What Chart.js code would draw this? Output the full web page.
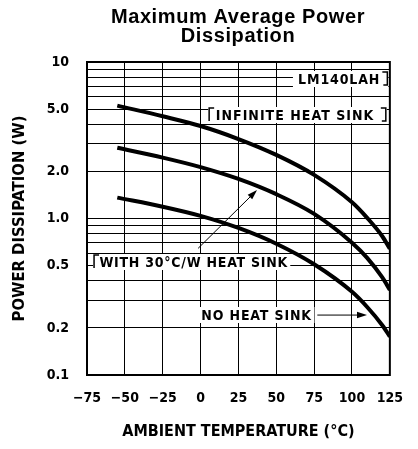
<!DOCTYPE html>
<html>
<head>
<meta charset="utf-8">
<script src="https://cdn.jsdelivr.net/npm/chart.js@4.4.1/dist/chart.umd.min.js"></script>
<style>
  html, body { margin: 0; padding: 0; background: #fff; }
  #wrap { width: 418px; height: 449px; }
</style>
</head>
<body>
<div id="wrap"><canvas id="powerChart"></canvas></div>
<script>
// values
var temperatures = [-55, -25, 0, 25, 50, 75, 100, 110, 120, 125];
var infiniteSink = [5.26, 4.5, 3.9, 3.22, 2.55, 1.9, 1.27, 1.01, 0.77, 0.64];
var withSink30 = [2.83, 2.45, 2.13, 1.79, 1.43, 1.07, 0.70, 0.56, 0.42, 0.35];
var noSink = [1.36, 1.19, 1.04, 0.87, 0.69, 0.51, 0.34, 0.272, 0.208, 0.176];

var xTickValues = [-75, -50, -25, 0, 25, 50, 75, 100, 125];
var xTickLabels = ["\u221275", "\u221250", "\u221225", "0", "25", "50", "75", "100", "125"];
var yGridValues = [0.1, 0.2, 0.3, 0.4, 0.5, 0.6, 0.7, 0.8, 0.9, 1, 2, 3, 4, 5, 6, 7, 8, 9, 10];
var yLabelValues = [0.1, 0.2, 0.5, 1, 2, 5, 10];
var yLabelTexts = ["0.1", "0.2", "0.5", "1.0", "2.0", "5.0", "10"];

var condensed = "'DejaVu Sans Condensed', 'Liberation Sans Narrow', 'DejaVu Sans', sans-serif";

function toPoints(values) {
  var pts = [];
  for (var i = 0; i < temperatures.length; i++) {
    pts.push({ x: temperatures[i], y: values[i] });
  }
  return pts;
}

function curve(label, values) {
  return {
    label: label,
    data: toPoints(values),
    borderColor: '#000',
    borderWidth: 4,
    pointRadius: 0,
    fill: false,
    cubicInterpolationMode: 'monotone'
  };
}

// label boxes, placed in axis units (temperature, watts)
var notes = [
  { text: 'LM140LAH', from: 64.4, to: 118.1, at: 7.79, box: [61, 124], right: true },
  { text: 'INFINITE HEAT SINK', from: 10.0, to: 114.1, at: 4.58, box: [5, 123], left: true, right: true },
  { text: 'WITH 30\u00B0C/W HEAT SINK', from: -66.8, to: 57.3, at: 0.527, box: [-71, 59.4], left: true, lead: [59.4, 72, 0.504] },
  { text: 'NO HEAT SINK', from: 0.5, to: 73.0, at: 0.2415, box: [-2.4, 75.2] }
];
var arrows = [
  { x1: -1.6, y1: 0.645, x2: 37.3, y2: 1.52 },
  { x1: 77.1, y1: 0.2415, x2: 109.9, y2: 0.2415 }
];

function drawArrow(ctx, x1, y1, x2, y2) {
  var ang = Math.atan2(y2 - y1, x2 - x1);
  var len = 10, half = 3.2;
  ctx.beginPath();
  ctx.moveTo(x1, y1);
  ctx.lineTo(x2 - Math.cos(ang) * len * 0.8, y2 - Math.sin(ang) * len * 0.8);
  ctx.stroke();
  ctx.beginPath();
  ctx.moveTo(x2, y2);
  ctx.lineTo(x2 - Math.cos(ang) * len - Math.sin(ang) * half, y2 - Math.sin(ang) * len + Math.cos(ang) * half);
  ctx.lineTo(x2 - Math.cos(ang) * len + Math.sin(ang) * half, y2 - Math.sin(ang) * len - Math.cos(ang) * half);
  ctx.closePath();
  ctx.fill();
}

var notesPlugin = {
  id: 'notes',
  beforeDatasetsDraw: function (chart) {
    var ctx = chart.ctx;
    var xs = chart.scales.x, ys = chart.scales.y;
    ctx.save();
    ctx.fillStyle = '#000';
    ctx.strokeStyle = '#000';
    ctx.font = 'bold 14px ' + condensed;
    ctx.textBaseline = 'middle';
    ctx.textAlign = 'left';
    notes.forEach(function (n) {
      var y = Math.round(ys.getPixelForValue(n.at));
      var bx1 = xs.getPixelForValue(n.box[0]);
      var bx2 = xs.getPixelForValue(n.box[1]);
      ctx.fillStyle = '#fff';
      ctx.fillRect(bx1, y - 8, bx2 - bx1, 16);
      ctx.fillStyle = '#000';
      var tx1 = xs.getPixelForValue(n.from);
      var tx2 = xs.getPixelForValue(n.to);
      ctx.letterSpacing = '0px';
      var w0 = ctx.measureText(n.text).width;
      var gap = (tx2 - tx1 - w0) / (n.text.length - 1);
      ctx.letterSpacing = gap + 'px';
      ctx.fillText(n.text, tx1, y + 1);
      ctx.letterSpacing = '0px';
      ctx.lineWidth = 1.5;
      if (n.right) {
        ctx.beginPath();
        ctx.moveTo(bx2 - 6, y - 7);
        ctx.lineTo(bx2 - 1, y - 7);
        ctx.lineTo(bx2 - 1, y + 6);
        ctx.lineTo(bx2 - 5, y + 6);
        ctx.stroke();
      }
      if (n.left) {
        ctx.beginPath();
        ctx.moveTo(bx1 + 6, y - 7);
        ctx.lineTo(bx1 + 1, y - 7);
        ctx.lineTo(bx1 + 1, y + 6);
        ctx.stroke();
      }
      if (n.lead) {
        var ly = Math.round(ys.getPixelForValue(n.lead[2])) + 0.5;
        ctx.lineWidth = 1;
        ctx.beginPath();
        ctx.moveTo(xs.getPixelForValue(n.lead[0]), ly);
        ctx.lineTo(xs.getPixelForValue(n.lead[1]), ly);
        ctx.stroke();
      }
    });
    ctx.lineWidth = 1;
    arrows.forEach(function (a) {
      drawArrow(ctx, xs.getPixelForValue(a.x1), ys.getPixelForValue(a.y1),
        xs.getPixelForValue(a.x2), ys.getPixelForValue(a.y2));
    });
    ctx.restore();
  },
  afterDatasetsDraw: function (chart) {
    var ctx = chart.ctx, a = chart.chartArea;
    ctx.save();
    ctx.strokeStyle = '#000';
    ctx.lineWidth = 2;
    ctx.strokeRect(a.left, a.top, a.right - a.left, a.bottom - a.top);
    ctx.restore();
  },
  afterDraw: function (chart) {
    var ctx = chart.ctx;
    ctx.save();
    ctx.fillStyle = '#000';
    ctx.font = 'bold 20px "Liberation Sans", Arial, sans-serif';
    ctx.letterSpacing = '0.6px';
    ctx.textAlign = 'center';
    ctx.textBaseline = 'middle';
    ctx.fillText('Maximum Average Power', 238, 17);
    ctx.fillText('Dissipation', 238, 36);
    ctx.restore();
  }
};

var powerChart = new Chart(document.getElementById('powerChart'), {
  type: 'line',
  data: {
    datasets: [
      curve('Infinite heat sink', infiniteSink),
      curve('With 30\u00B0C/W heat sink', withSink30),
      curve('No heat sink', noSink)
    ]
  },
  options: {
    responsive: true,
    maintainAspectRatio: false,
    animation: false,
    layout: { padding: { top: 62, right: 14, left: 0, bottom: 0 } },
    plugins: {
      legend: { display: false },
      tooltip: { enabled: false }
    },
    scales: {
      x: {
        type: 'linear',
        min: -75,
        max: 125,
        afterBuildTicks: function (scale) {
          scale.ticks = xTickValues.map(function (v) { return { value: v }; });
        },
        afterFit: function (scale) { scale.height = 74; },
        ticks: {
          autoSkip: false,
          maxRotation: 0,
          padding: 15,
          color: '#000',
          font: { family: condensed, size: 14, weight: 'bold' },
          callback: function (value) {
            var i = xTickValues.indexOf(value);
            return i >= 0 ? xTickLabels[i] : '';
          }
        },
        grid: { color: '#000', lineWidth: 1, drawTicks: false },
        border: { display: true, color: '#000', width: 2 },
        title: {
          display: true,
          text: 'AMBIENT TEMPERATURE (\u00B0C)',
          color: '#000',
          font: { family: condensed, size: 16, weight: 'bold' },
          padding: { top: 0, bottom: 8 }
        }
      },
      y: {
        type: 'logarithmic',
        min: 0.1,
        max: 10,
        afterBuildTicks: function (scale) {
          scale.ticks = yGridValues.map(function (v) { return { value: v }; });
        },
        afterFit: function (scale) { scale.width = 87; },
        ticks: {
          autoSkip: false,
          padding: 18,
          color: '#000',
          font: { family: condensed, size: 14, weight: 'bold' },
          callback: function (value) {
            for (var i = 0; i < yLabelValues.length; i++) {
              if (Math.abs(yLabelValues[i] - value) < 1e-6) return yLabelTexts[i];
            }
            return '';
          }
        },
        grid: { color: '#000', lineWidth: 1, drawTicks: false },
        border: { display: true, color: '#000', width: 2 },
        title: {
          display: true,
          text: 'POWER DISSIPATION (W)',
          color: '#000',
          font: { family: condensed, size: 16.5, weight: 'bold' },
          padding: { top: 10, bottom: 0 }
        }
      }
    }
  },
  plugins: [notesPlugin]
});
</script>
</body>
</html>
